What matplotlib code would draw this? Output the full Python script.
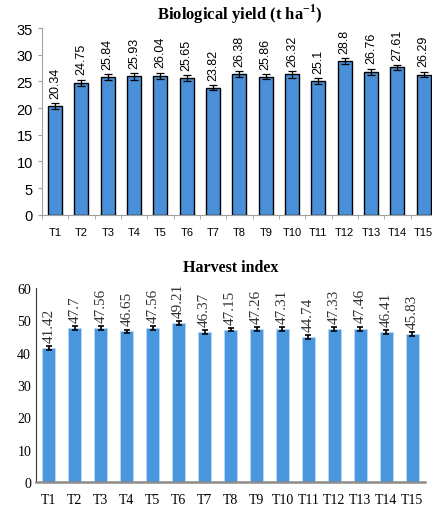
import numpy as np
import matplotlib.pyplot as plt
from matplotlib.ticker import FixedLocator

# data
treatments = ['T%d' % i for i in range(1, 16)]
bio_yield = [20.34, 24.75, 25.84, 25.93, 26.04, 25.65, 23.82, 26.38,
             25.86, 26.32, 25.1, 28.8, 26.76, 27.61, 26.29]
bio_err = [0.55, 0.55, 0.5, 0.6, 0.6, 0.5, 0.45, 0.55,
           0.5, 0.6, 0.5, 0.55, 0.6, 0.45, 0.5]
harvest_idx = [41.42, 47.7, 47.56, 46.65, 47.56, 49.21, 46.37, 47.15,
               47.26, 47.31, 44.74, 47.33, 47.46, 46.41, 45.83]
harvest_err = [0.6, 0.6, 0.6, 0.5, 0.6, 0.6, 0.6, 0.5,
               0.6, 0.6, 0.6, 0.6, 0.6, 0.5, 0.6]

x = np.arange(len(treatments))
fig = plt.figure(figsize=(4.32, 5.10), dpi=100)

#Figure 1 - biological yield
ax1 = fig.add_axes([0.0972, 0.577, 0.914, 0.366])
ax1.bar(x, bio_yield, width=0.53, color='#4a90d9', edgecolor='black',
        linewidth=1.0, yerr=bio_err, capsize=3,
        error_kw=dict(ecolor='black', elinewidth=0.9, capthick=0.9))
for xi, v, e in zip(x, bio_yield, bio_err):
    ax1.annotate(str(v), (xi, v + e), xytext=(0, 4), textcoords='offset points',
                 rotation=90, ha='center', va='bottom', fontsize=9,
                 family='Liberation Sans')
ax1.set_xlim(-0.5, 14.5)
ax1.set_ylim(0, 35)
ax1.set_yticks(range(0, 36, 5))
ax1.set_xticks(x)
ax1.set_xticklabels(treatments, family='Liberation Sans', fontsize=8)
ax1.xaxis.set_minor_locator(FixedLocator(np.arange(-0.5, 15, 1)))
ax1.tick_params(axis='x', which='major', length=0, pad=9)
ax1.tick_params(axis='x', which='minor', length=3, color='#a0a0a0')
ax1.tick_params(axis='y', length=3, color='#a0a0a0', labelsize=10.5)
for lab in ax1.get_yticklabels():
    lab.set_family('Liberation Sans')
for s in ['top', 'right']:
    ax1.spines[s].set_visible(False)
for s in ['left', 'bottom']:
    ax1.spines[s].set_color('#a0a0a0')
ax1.set_title('Biological yield (t ha$^{\\mathregular{-1}}$)', family='Liberation Serif',
              fontweight='bold', fontsize=12, pad=7)

#Figure 2 - harvest index
ax2 = fig.add_axes([0.0833, 0.0529, 0.901, 0.3804])
ax2.bar(x, harvest_idx, width=0.5, color='#4896dd', edgecolor='#bcd8f2',
        linewidth=0.6, yerr=harvest_err, capsize=2.5,
        error_kw=dict(ecolor='black', elinewidth=1.2, capthick=1.2))
for xi, v, e in zip(x, harvest_idx, harvest_err):
    ax2.annotate(str(v), (xi, v + e), xytext=(0, 3), textcoords='offset points',
                 rotation=90, ha='center', va='bottom', fontsize=11,
                 family='Liberation Serif', color='#333333')
ax2.set_xlim(-0.5, 14.5)
ax2.set_ylim(0, 60)
ax2.set_yticks(range(0, 61, 10))
ax2.set_xticks(x)
ax2.set_xticklabels(treatments, family='Liberation Serif', fontsize=10)
ax2.tick_params(axis='both', length=0, labelsize=10)
ax2.tick_params(axis='x', pad=8)
for lab in ax2.get_yticklabels():
    lab.set_family('Liberation Serif')
for s in ['top', 'right']:
    ax2.spines[s].set_visible(False)
ax2.spines['left'].set_color('#333333')
ax2.spines['left'].set_linewidth(0.8)
ax2.spines['bottom'].set_color('#8c8c8c')
ax2.spines['bottom'].set_linewidth(1.8)
ax2.set_title('Harvest index', family='Liberation Serif', fontweight='bold',
              fontsize=11.5, pad=12)

fig.savefig('out.png', dpi=100)
